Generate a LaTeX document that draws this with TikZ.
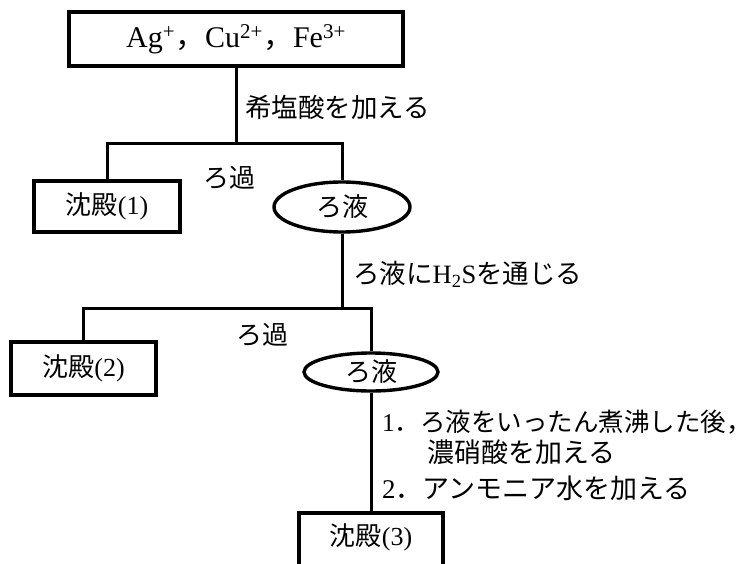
\documentclass[tikz,border=0pt]{standalone}
\usepackage{fontspec}
\setmainfont{Liberation Serif}
\newfontfamily\jp{Noto Sans CJK JP}
\usetikzlibrary{shapes.geometric}
\begin{document}
\begin{tikzpicture}[x=1pt,y=-1pt,
  jpf/.style={font=\fontsize{26}{30}\selectfont},
  boxnode/.style={draw,rectangle,line width=3.6pt,inner sep=0pt,jpf},
  oval/.style={draw,ellipse,line width=3.4pt,inner sep=0pt,jpf},
  conn/.style={line width=3pt},
  lab/.style={anchor=west,inner sep=0pt,jpf}]
\fill[white] (0,0) rectangle (754,564);
\useasboundingbox (0,0) rectangle (754,564);
\clip (0,0) rectangle (754,564);
% nodes
\node[boxnode,minimum width=334pt,minimum height=54pt,font=\fontsize{30}{34}\selectfont] (top) at (236,39)
  {Ag\textsuperscript{+}{\jp ，}Cu\textsuperscript{2+}{\jp ，}Fe\textsuperscript{3+}};
\node[boxnode,minimum width=146pt,minimum height=51pt] (p1) at (107,206.5) {{\jp 沈殿}(1)};
\node[oval,minimum width=136pt,minimum height=50pt] (f1) at (342,207) {\jp ろ液};
\node[boxnode,minimum width=145pt,minimum height=53pt] (p2) at (83.5,368.5) {{\jp 沈殿}(2)};
\node[oval,minimum width=134pt,minimum height=38pt] (f2) at (371,372) {\jp ろ液};
% bottom box runs past the lower edge of the picture
\node[boxnode,minimum width=144pt,minimum height=70pt] (p3) at (371,548) {};
\node[jpf,inner sep=0pt] (p3t) at (371,537) {{\jp 沈殿}(3)};
% junctions
\coordinate (j1) at (236,144);
\coordinate (j2) at (342,308);
% connectors
\draw[conn] (top.south) -- (j1);
\draw[conn] (p1.north) |- (j1) -| (f1.north);
\draw[conn] (f1.south) -- (j2);
\draw[conn] (p2.north) |- (j2) -| (f2.north);
\draw[conn] (f2.south) -- (p3.north);
% labels
\node[lab,font=\fontsize{26.5}{30}\selectfont] (l1) at (245,107) {\jp 希塩酸を加える};
\node[jpf,inner sep=0pt] (l2) at (229,178) {\jp ろ過};
\node[lab,font=\fontsize{26.5}{30}\selectfont] (l3) at (353,274) {{\jp ろ液に}H\textsubscript{2}S{\jp を通じる}};
\node[jpf,inner sep=0pt] (l4) at (262,335) {\jp ろ過};
\node[lab,font=\fontsize{25.5}{30}\selectfont] (l5) at (382,422) {1{\jp ．ろ液をいったん煮沸した後，}};
\node[lab,font=\fontsize{27}{30}\selectfont] (l6) at (427,452) {\jp 濃硝酸を加える};
\node[lab,font=\fontsize{27}{30}\selectfont] (l7) at (382,488) {2{\jp ．アンモニア水を加える}};
\end{tikzpicture}
\end{document}
